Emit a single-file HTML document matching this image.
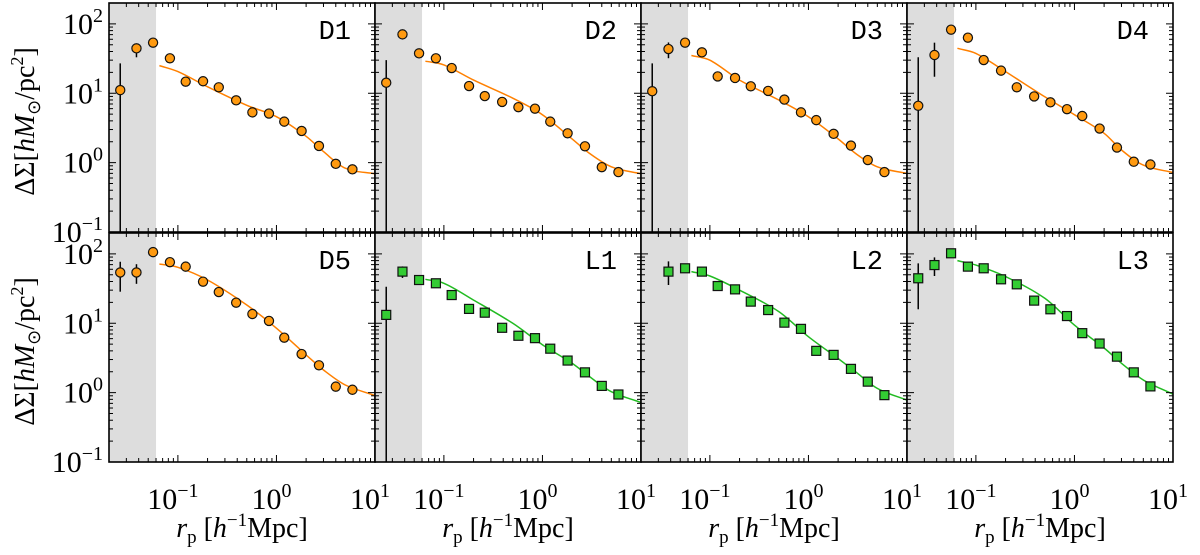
<!DOCTYPE html>
<html><head><meta charset="utf-8">
<style>
html,body{margin:0;padding:0;background:#fff;}
svg text{font-family:"Liberation Serif",serif;}
</style></head>
<body>
<svg id="chart" width="1200" height="550" viewBox="0 0 1200 550" xmlns="http://www.w3.org/2000/svg"></svg>
<script>
// ---- data ----
const panelNames = ["D1","D2","D3","D4","D5","L1","L2","L3"];
const rp = [0.026,0.038,0.056,0.083,0.12,0.18,0.26,0.39,0.57,0.84,1.2,1.8,2.7,4.0,5.9];
const D1 = [11.1,44.4,53.6,31.9,14.7,14.9,12.2,7.9,5.3,5.1,3.9,2.86,1.74,0.96,0.80];
const D2 = [14.2,70.6,37.6,31.9,23.1,12.7,9.1,7.5,6.3,6.0,3.9,2.65,1.72,0.86,0.73];
const D3 = [10.7,43.4,53.6,38.9,17.5,16.6,12.6,10.8,8.1,5.3,4.1,2.6,1.76,1.09,0.73];
const D4 = [6.6,35.6,82.6,63.3,30.1,21.2,12.2,9.0,7.4,5.9,4.7,3.1,1.65,1.03,0.94];
const D5 = [54,54,106,76,65.5,39.8,28.2,19.8,13.6,10.8,6.2,3.6,2.48,1.22,1.10];
const L1 = [13.2,55.5,42,37.7,25.5,16.1,14.2,8.6,6.6,6.1,4.3,2.9,1.96,1.25,0.94];
const L2 = [null,55.5,62,55.5,34.4,30.8,20.5,15.5,10.2,8.3,4.0,3.5,2.2,1.44,0.92];
const L3 = [44.5,69,102,65.5,62,43,36.4,21.2,15.9,12.7,7.2,5.1,3.3,1.96,1.23];
// error bars for the first three points: [low, high]
const D1err = [[0.05,27],[33,52],[48,58]];
const D2err = [[0.05,30],[64,78],[32,42]];
const D3err = [[0.05,27],[32,54],[48,59]];
const D4err = [[0.05,33],[17.3,53.6],[76,90]];
const D5err = [[28.5,77],[37,71],[100,112]];
const L1err = [[0.05,33.6],[45,66],[36,48]];
const L2err = [[null,null],[35.6,78],[54,70]];
const L3err = [[15.9,73],[48,89],[95,108]];
// model curves
const modelX = [0.065,0.1,0.2,0.5,1,2,3,5,10];
const D1model = [25,20.5,12.4,6.7,4.6,2.4,1.44,0.83,0.69];
const D2model = [29,25.6,15.5,8.5,4.9,2.2,1.36,0.87,0.69];
const D3model = [35,30,15.5,8,4.6,2.2,1.36,0.87,0.70];
const D4model = [44.5,37.6,20.5,8.9,4.9,2.65,1.52,0.92,0.72];
const D5model = [71.5,64,42,18.3,8.5,3.5,2.12,1.29,0.91];
const L1model = [43,37.7,21.6,10,4.9,2.65,1.7,1.03,0.72];
const L2model = [55.5,48,30,14.7,6.4,3.1,2.0,1.15,0.78];
const L3model = [80,69,47,22.9,9.4,4.4,2.65,1.52,0.95];
const xTickVals = [0.1,1,10];
const xTickLabels = ["−1","0","1"];
const yTickVals = [100,10,1,0.1];
const yTickLabels = ["2","1","0","−1"];

const series = [D1,D2,D3,D4,D5,L1,L2,L3];
const errs = [D1err,D2err,D3err,D4err,D5err,L1err,L2err,L3err];
const models = [D1model,D2model,D3model,D4model,D5model,L1model,L2model,L3model];

// ---- layout ----
const NS="http://www.w3.org/2000/svg";
const svg=document.getElementById('chart');
const lefts=[109,375,641,907], W=266;
const tops=[3,233], H=229;
const xmin=Math.log10(0.02), xmax=1, ymin=-1, ymax=Math.log10(200);
const shadeMax=0.06;
function xs(v,p){return lefts[p%4]+(Math.log10(v)-xmin)/(xmax-xmin)*W;}
function ys(v,p){const t=tops[Math.floor(p/4)];return t+H-(Math.log10(v)-ymin)/(ymax-ymin)*H;}
function mk(tag,attrs,parent){const e=document.createElementNS(NS,tag);for(const k in attrs)e.setAttribute(k,attrs[k]);(parent||svg).appendChild(e);return e;}

for(let p=0;p<8;p++){
  const isL=p>=5;
  const g=mk('g',{});
  
  
  const L=lefts[p%4], T=tops[Math.floor(p/4)];
  const clipId='clip'+p;
  const cp=mk('clipPath',{id:clipId},g);mk('rect',{x:L,y:T,width:W,height:H},cp);
  const shade=mk('rect',{x:L,y:T,width:xs(shadeMax,p)-L,height:H,fill:'#dddddd'},g);
  
  
  const inner=mk('g',{'clip-path':'url(#'+clipId+')'},g);
  // model (monotone-ish catmull-rom in log space)
  const mv=models[p];
  const pts=modelX.map((x,i)=>[xs(x,p),ys(mv[i],p)]);
  let d='M'+pts[0][0].toFixed(1)+','+pts[0][1].toFixed(1);
  for(let i=0;i<pts.length-1;i++){
    const p0=pts[Math.max(0,i-1)],p1=pts[i],p2=pts[i+1],p3=pts[Math.min(pts.length-1,i+2)];
    const dx=p2[0]-p1[0];
    const s1=(p2[1]-p0[1])/(p2[0]-p0[0]), s2=(p3[1]-p1[1])/(p3[0]-p1[0]);
    const c1=[p1[0]+dx/3,p1[1]+s1*dx/3];
    const c2=[p2[0]-dx/3,p2[1]-s2*dx/3];
    d+='C'+c1[0].toFixed(1)+','+c1[1].toFixed(1)+' '+c2[0].toFixed(1)+','+c2[1].toFixed(1)+' '+p2[0].toFixed(1)+','+p2[1].toFixed(1);
  }
  const line=mk('path',{d:d,fill:'none',stroke:isL?'#22bb22':'#ff8000','stroke-width':1.5},inner);
  
  
  // points
  const vals=series[p], er=errs[p];
  vals.forEach((v,i)=>{
    if(v==null)return;
    const cx=xs(rp[i],p), cy=ys(v,p);
    let lo,hi;
    if(i<3){lo=er[i][0];hi=er[i][1];}else{lo=v*0.9;hi=v*1.1;}
    const eb=mk('line',{x1:cx,x2:cx,y1:ys(lo,p),y2:ys(hi,p),stroke:'#000','stroke-width':1.5},inner);
    
    
    let m;
    if(isL){m=mk('rect',{x:cx-4.5,y:cy-4.5,width:9,height:9,fill:'#33cc33',stroke:'#111','stroke-width':1.2},inner);}
    else{m=mk('circle',{cx:cx,cy:cy,r:4.6,fill:'#ff9a10',stroke:'#111','stroke-width':1.2},inner);}
    
    
  });
  // ticks
  const tk=mk('g',{stroke:'#000','stroke-width':1},g);
  for(let e=-2;e<=1;e++){for(let k=1;k<10;k++){
    const v=k*Math.pow(10,e);if(v<0.02||v>10)continue;
    const x=xs(v,p), len=k===1?7:4;
    mk('line',{x1:x,x2:x,y1:T+H,y2:T+H-len},tk);mk('line',{x1:x,x2:x,y1:T,y2:T+len},tk);
  }}
  for(let e=-1;e<=2;e++){for(let k=1;k<10;k++){
    const v=k*Math.pow(10,e);if(v<0.1||v>200)continue;
    const y=ys(v,p), len=k===1?7:4;
    mk('line',{x1:L,x2:L+len,y1:y,y2:y},tk);mk('line',{x1:L+W,x2:L+W-len,y1:y,y2:y},tk);
  }}
  const fr=mk('rect',{x:L,y:T,width:W,height:H,fill:'none',stroke:'#000','stroke-width':1.6},g);
  
  
  const lab=mk('text',{x:L+W-24,y:T+36,'text-anchor':'end','font-size':27,style:'font-family:"Liberation Mono",monospace'},g);
  lab.textContent=panelNames[p];
  
  
  // y tick labels on first column
  if(p%4===0){
    yTickVals.forEach((v,i)=>{
      const y=ys(v,p);
      const t=mk('text',{x:L-6,y:y+10,'text-anchor':'end','font-size':30},svg);
      t.innerHTML='10<tspan dy="-12" font-size="20">'+yTickLabels[i]+'</tspan>';
      
      
    });
    const yt=mk('text',{x:0,y:0,'text-anchor':'middle','font-size':28,transform:'translate(34,'+(T+H/2+4)+') rotate(-90)'},svg);
    yt.innerHTML='ΔΣ[<tspan font-style="italic">hM</tspan><tspan font-size="18" dy="6">⊙</tspan><tspan dy="-6">/pc</tspan><tspan font-size="18" dy="-11">2</tspan><tspan dy="11">]</tspan>';
    
    
  }
  if(p>=4){
    xTickVals.forEach((v,i)=>{
      const x=xs(v,p);
      const t=mk('text',{x:x-5,y:T+H+47,'text-anchor':'middle','font-size':30},svg);
      t.innerHTML='10<tspan dy="-12" font-size="20">'+xTickLabels[i]+'</tspan>';
      
      
    });
    const xt=mk('text',{x:L+W/2,y:T+H+75,'text-anchor':'middle','font-size':28},svg);
    xt.innerHTML='<tspan font-style="italic">r</tspan><tspan font-size="19" dy="6">p</tspan><tspan dy="-6"> [</tspan><tspan font-style="italic">h</tspan><tspan font-size="19" dy="-11">−1</tspan><tspan dy="11">Mpc]</tspan>';
    
    
  }
}
</script>
</body></html>
